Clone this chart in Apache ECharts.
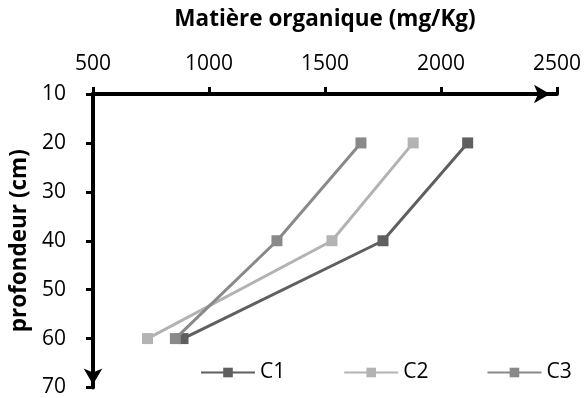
<!DOCTYPE html>
<html>
<head>
<meta charset="utf-8">
<script src="https://cdn.jsdelivr.net/npm/echarts@6/dist/echarts.min.js"></script>
<style>
  html, body { margin: 0; padding: 0; background: #fff; }
  #chart { width: 586px; height: 398px; }
</style>
</head>
<body>
<div id="chart"></div>
<script>
// Depth of each sampling level (cm)
const depths = [20, 40, 60];
// Organic matter content (mg/Kg) per core
const seriesNames = ['C1', 'C2', 'C3'];
const c1 = [2115, 1750, 888];
const c2 = [1880, 1530, 735];
const c3 = [1655, 1293, 855];
const seriesColors = ['#5f5f5f', '#b3b3b3', '#898989'];

const xTitle = 'Matière organique (mg/Kg)';
const yTitle = 'profondeur (cm)';

const FONT = 'Open Sans';
const values = [c1, c2, c3];

const chart = echarts.init(document.getElementById('chart'), null, { renderer: 'canvas' });

const axisLineStyle = { color: '#000', width: 4 };
const tickStyle = { show: true, inside: false, length: 7, lineStyle: { color: '#000', width: 3 } };
const titleStyle = { fontFamily: FONT, fontSize: 22.5, fontWeight: 'bold', color: '#000' };

chart.setOption({
  animation: false,
  textStyle: { fontFamily: FONT },
  grid: { left: 93, right: 29, top: 94, bottom: 10, containLabel: false },
  legend: {
    left: 195,
    top: 357,
    itemWidth: 54,
    itemHeight: 12,
    itemGap: 58,
    textStyle: { fontFamily: FONT, fontSize: 21, color: '#000' },
    data: seriesNames
  },
  xAxis: {
    type: 'value',
    position: 'top',
    min: 500,
    max: 2500,
    interval: 500,
    name: xTitle,
    nameLocation: 'middle',
    nameGap: 63,
    nameTextStyle: titleStyle,
    splitLine: { show: false },
    axisLine: {
      onZero: false,
      lineStyle: axisLineStyle,
      symbol: ['none', 'arrow'],
      symbolSize: [14, 16],
      symbolOffset: [0, -7]
    },
    axisTick: tickStyle,
    axisLabel: { margin: 19, fontFamily: FONT, fontSize: 21, color: '#000', formatter: v => String(v) }
  },
  yAxis: {
    type: 'value',
    inverse: true,
    min: 10,
    max: 70,
    interval: 10,
    name: yTitle,
    nameLocation: 'middle',
    nameGap: 55,
    nameRotate: 90,
    nameTextStyle: titleStyle,
    splitLine: { show: false },
    axisLine: {
      onZero: false,
      lineStyle: axisLineStyle,
      symbol: ['arrow', 'none'],
      symbolSize: [14, 16],
      symbolOffset: [3, 0]
    },
    axisTick: tickStyle,
    axisLabel: { margin: 27, fontFamily: FONT, fontSize: 21, color: '#000' }
  },
  series: seriesNames.map((name, i) => ({
    name: name,
    type: 'line',
    data: values[i].map((v, j) => [v, depths[j]]),
    symbol: 'rect',
    symbolSize: 11,
    showSymbol: true,
    lineStyle: { color: seriesColors[i], width: 3 },
    itemStyle: { color: seriesColors[i] },
    z: 2 + i
  }))
});
</script>
</body>
</html>
